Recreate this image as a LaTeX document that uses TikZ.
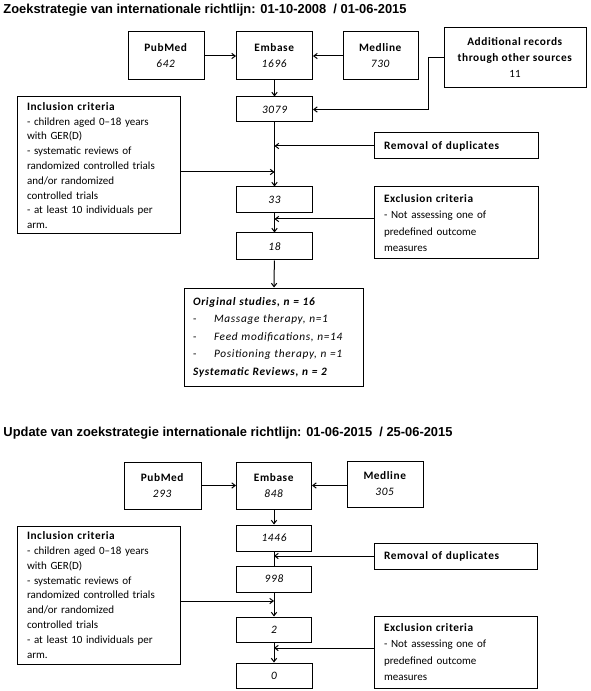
\documentclass[tikz,border=0pt]{standalone}
\usepackage{fontspec}
\usepackage{graphicx}
\setmainfont{Carlito}[BoldFeatures={LetterSpace=5,Scale=1.03},ItalicFeatures={LetterSpace=6,Scale=1.03},BoldItalicFeatures={LetterSpace=6,Scale=1.03}]
\newfontfamily\titlefont{Liberation Sans}
\usetikzlibrary{arrows.meta}
\begin{document}
\begin{tikzpicture}[x=0.75pt,y=-0.75pt,line width=0.75pt,
  box/.style={draw,rectangle,inner sep=0pt,align=center,font=\fontsize{8.25}{12}\selectfont},
  num/.style={box,font=\fontsize{8.25}{12}\selectfont\itshape},
  leftbox/.style={draw,rectangle,inner ysep=0pt,inner xsep=7.5pt,align=left,text width=#1},
  arr/.style={-{Straight Barb[length=2.6pt,width=4pt]}},
  ttl/.style={anchor=base west,inner sep=0pt}]
\useasboundingbox (0,0) rectangle (590,691);
% ---------- titles
\node[ttl] (t1) at (3,13.3) {\resizebox{302.25pt}{\height}{\titlefont\bfseries\fontsize{9.75}{12}\selectfont Zoekstrategie van internationale richtlijn: 01-10-2008\ \ / 01-06-2015}};
\node[ttl] (t2) at (3,436) {\resizebox{336.75pt}{\height}{\titlefont\bfseries\fontsize{9.75}{12}\selectfont Update van zoekstrategie internationale richtlijn: 01-06-2015\ \ / 25-06-2015}};
% ---------- section 1
\node[box,minimum width=57pt,minimum height=36pt] (pub1) at (166,56) {\textbf{PubMed}\\\textit{642}};
\node[box,minimum width=57pt,minimum height=36pt] (emb1) at (274.5,56) {\textbf{Embase}\\\textit{1696}};
\node[box,minimum width=56.25pt,minimum height=36pt] (med1) at (380.5,56) {\textbf{Medline}\\\textit{730}};
\node[box,minimum width=106.5pt,minimum height=45pt] (add1) at (515,58) {\textbf{Additional records}\\\textbf{through other sources}\\11};
\node[leftbox=107.25pt,minimum height=102.75pt,font=\fontsize{8.25}{11.1}\selectfont] (inc1) at (98.5,165.5)
 {\textbf{Inclusion criteria}\\- children aged 0–18 years\\with GER(D)\\- systematic reviews of\\randomized controlled trials\\and/or randomized\\controlled trials\\- at least 10 individuals per\\arm.};
\node[num,minimum width=57pt,minimum height=18.75pt] (n3079) at (274.5,109.5) {3079};
\node[leftbox=108pt,minimum height=19.5pt,font=\fontsize{8.25}{12}\selectfont\bfseries] (rem1) at (456,146) {Removal of duplicates};
\node[num,minimum width=57pt,minimum height=19.5pt] (n33) at (274.5,200) {33};
\node[leftbox=108pt,minimum height=54pt,font=\fontsize{8.25}{12.4}\selectfont] (exc1) at (456,223)
 {\textbf{Exclusion criteria}\\- Not assessing one of\\predefined outcome\\measures};
\node[num,minimum width=57pt,minimum height=20.25pt] (n18) at (274.5,246.5) {18};
\node[leftbox=120.75pt,inner xsep=6.75pt,minimum height=73.5pt,font=\fontsize{8.25}{13.1}\selectfont] (orig) at (273.5,337)
 {\textbf{\textit{Original studies, n = 16}}\\
  \makebox[15.75pt][l]{-}\textit{Massage therapy, n=1}\\
  \makebox[15.75pt][l]{-}\textit{Feed modifications, n=14}\\
  \makebox[15.75pt][l]{-}\textit{Positioning therapy, n =1}\\
  \textbf{\textit{Systematic Reviews, n = 2}}};
\coordinate (j1) at (274.5,172);
\coordinate (j2) at (274.5,219);
\draw[arr] (pub1) -- (emb1);
\draw[arr] (med1) -- (emb1);
\draw[arr] (emb1) -- (n3079);
\draw[arr] (add1.west) -- ++(-15,0) |- (n3079.east);
\draw[arr] (n3079) -- (n33);
\draw[arr] (rem1.west) -- (rem1.west -| n3079.south);
\draw[arr] (inc1.east |- j1) -- (j1);
\draw[arr] (n33) -- (n18);
\draw[arr] (exc1.west |- j2) -- (j2);
\draw[arr] (n18) -- (orig);
% ---------- section 2
\node[box,minimum width=57.75pt,minimum height=35.25pt] (pub2) at (162.5,485.5) {\textbf{PubMed}\\\textit{293}};
\node[box,minimum width=56.25pt,minimum height=35.25pt] (emb2) at (274,485.5) {\textbf{Embase}\\\textit{848}};
\node[box,minimum width=57pt,minimum height=34.5pt] (med2) at (385,484) {\textbf{Medline}\\\textit{305}};
\node[leftbox=107.25pt,minimum height=103.5pt,font=\fontsize{8.25}{11.1}\selectfont] (inc2) at (98.5,595)
 {\textbf{Inclusion criteria}\\- children aged 0–18 years\\with GER(D)\\- systematic reviews of\\randomized controlled trials\\and/or randomized\\controlled trials\\- at least 10 individuals per\\arm.};
\node[num,minimum width=56.25pt,minimum height=19.5pt] (n1446) at (274,538) {1446};
\node[leftbox=107.25pt,minimum height=19.5pt,font=\fontsize{8.25}{12}\selectfont\bfseries] (rem2) at (455.5,556) {Removal of duplicates};
\node[num,minimum width=56.25pt,minimum height=19.5pt] (n998) at (274,579) {998};
\node[num,minimum width=56.25pt,minimum height=18.75pt] (n2) at (274,629.5) {2};
\node[leftbox=107.25pt,minimum height=54pt,font=\fontsize{8.25}{12.4}\selectfont] (exc2) at (455.5,652)
 {\textbf{Exclusion criteria}\\- Not assessing one of\\predefined outcome\\measures};
\node[num,minimum width=57pt,minimum height=18.75pt] (n0) at (274,675.5) {0};
\coordinate (j3) at (274,601);
\coordinate (j4) at (274,648);
\draw[arr] (pub2) -- (emb2);
\draw[arr] (med2.west |- emb2) -- (emb2);
\draw[arr] (emb2) -- (n1446);
\draw (n1446) -- (n998);
\draw[arr] (rem2.west) -- (rem2.west -| n1446.south);
\draw[arr] (n998) -- (n2);
\draw[arr] (inc2.east |- j3) -- (j3);
\draw[arr] (n2) -- (n0);
\draw[arr] (exc2.west |- j4) -- (j4);
\end{tikzpicture}
\end{document}
